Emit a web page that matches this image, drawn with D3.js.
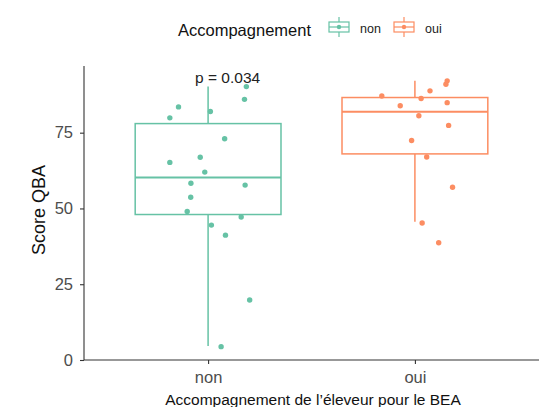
<!DOCTYPE html>
<html><head><meta charset="utf-8">
<script src="https://cdn.jsdelivr.net/npm/d3@7"></script>
<style>body{margin:0;background:#fff}svg{display:block;font-family:"Liberation Sans",Arial,sans-serif}</style>
</head><body><svg id="c" width="540" height="407"></svg>
<script>
const categories = ["non", "oui"];
const colors = ["#66C2A5", "#FC8D62"];
const yTicks = [0, 25, 50, 75];
// box stats: [lowerWhisker, q1, median, q3, upperWhisker]
const boxNon = [4.6, 48.0, 60.2, 78.0, 90.2];
const boxOui = [45.6, 68.0, 81.9, 86.6, 92.1];
const pointsNon = [83.5, 79.9, 82.0, 90.2, 86.0, 73.0, 65.2, 66.9, 62.0, 58.3, 57.7, 53.7, 49.0, 47.2, 44.5, 41.2, 19.8, 4.4];
const jitterNon = [-0.143, -0.185, 0.011, 0.185, 0.176, 0.080, -0.185, -0.038, -0.016, -0.083, 0.179, -0.084, -0.101, 0.160, 0.016, 0.084, 0.201, 0.063];
const pointsOui = [92.1, 91.0, 88.8, 87.1, 86.3, 84.9, 83.9, 80.6, 77.4, 72.4, 67.0, 57.0, 45.2, 38.7];
const jitterOui = [0.156, 0.150, 0.073, -0.160, 0.030, 0.156, -0.071, 0.019, 0.163, -0.016, 0.057, 0.182, 0.035, 0.115];
const pLabel = "p = 0.034";
const legendTitle = "Accompagnement";
const xTitle = "Accompagnement de l\u2019éleveur pour le BEA";
const yTitle = "Score QBA";

const boxes = [boxNon, boxOui];
const pts = [pointsNon, pointsOui];
const jit = [jitterNon, jitterOui];

const svg = d3.select("#c");
const L = 84, R = 539, T = 66, B = 360;
const x = d3.scaleLinear().domain([0.4, 2.6]).range([L, R]);
const y = d3.scaleLinear().domain([0, 97]).range([B, T]);
const color = d3.scaleOrdinal().domain(categories).range(colors);
const boxW = 0.705;

// axes
const axisColor = "#333";
const yAxis = svg.append("g").attr("transform", `translate(${L},0)`)
  .call(d3.axisLeft(y).tickValues(yTicks).tickSize(4).tickPadding(7));
const xAxis = svg.append("g").attr("transform", `translate(0,${B})`)
  .call(d3.axisBottom(x).tickValues([1, 2]).tickFormat((d) => categories[d - 1]).tickSize(4).tickPadding(7));
[yAxis, xAxis].forEach(g => {
  g.select(".domain").attr("stroke", axisColor).attr("stroke-width", 1.1);
  g.selectAll(".tick line").attr("stroke", axisColor).attr("stroke-width", 1.1);
  g.selectAll("text").attr("fill", "#4D4D4D").attr("font-size", 16.5).attr("font-family", "Liberation Sans, Arial, sans-serif");
});
yAxis.select(".domain").attr("d", `M0,${T}V${B}`);
xAxis.select(".domain").attr("d", `M${L},0H${R}`);

// boxes
categories.forEach((c, i) => {
  const b = boxes[i];
  const cx = x(i + 1);
  const g = svg.append("g").attr("stroke", color(c)).attr("fill", "none").attr("stroke-width", 1.5);
  g.append("line").attr("x1", cx).attr("x2", cx).attr("y1", y(b[4])).attr("y2", y(b[3]));
  g.append("line").attr("x1", cx).attr("x2", cx).attr("y1", y(b[1])).attr("y2", y(b[0]));
  const x0 = x(i + 1 - boxW / 2), x1 = x(i + 1 + boxW / 2);
  g.append("rect").attr("x", x0).attr("y", y(b[3])).attr("width", x1 - x0).attr("height", y(b[1]) - y(b[3])).attr("fill", "#fff");
  g.append("line").attr("x1", x0).attr("x2", x1).attr("y1", y(b[2])).attr("y2", y(b[2])).attr("stroke-width", 2);
});
// points
categories.forEach((c, i) => {
  svg.append("g").selectAll("circle").data(pts[i]).join("circle")
    .attr("cx", (d, k) => x(i + 1 + jit[i][k]))
    .attr("cy", d => y(d))
    .attr("r", 2.7)
    .attr("fill", color(c));
});

// p value
svg.append("text").attr("x", x(1) - 13).attr("y", 83).attr("font-size", 15.5).attr("fill", "#222").text(pLabel);

// titles
svg.append("text").attr("x", 313).attr("y", 405).attr("text-anchor", "middle").attr("font-size", 15.5).attr("fill", "#111").text(xTitle);
svg.append("text").attr("transform", `translate(45,210) rotate(-90)`).attr("text-anchor", "middle").attr("font-size", 18).attr("fill", "#111").text(yTitle);

// legend
svg.append("text").attr("x", 178).attr("y", 35.5).attr("font-size", 16.5).attr("fill", "#111").text(legendTitle);
const legX = [328, 393];
const legTextX = [360, 425];
categories.forEach((c, i) => {
  const g = svg.append("g").attr("transform", `translate(${legX[i]},17)`).attr("stroke", color(c)).attr("fill", "none").attr("stroke-width", 1.2);
  g.append("line").attr("x1", 11).attr("x2", 11).attr("y1", 0).attr("y2", 20);
  g.append("rect").attr("x", 1).attr("y", 5).attr("width", 20).attr("height", 10).attr("fill", "#fff");
  g.append("line").attr("x1", 1).attr("x2", 21).attr("y1", 10).attr("y2", 10);
  g.append("circle").attr("cx", 11).attr("cy", 10).attr("r", 2.2).attr("fill", color(c)).attr("stroke", "none");
  svg.append("text").attr("x", legTextX[i]).attr("y", 33).attr("font-size", 12.5).attr("fill", "#222").text(c);
});
</script></body></html>
